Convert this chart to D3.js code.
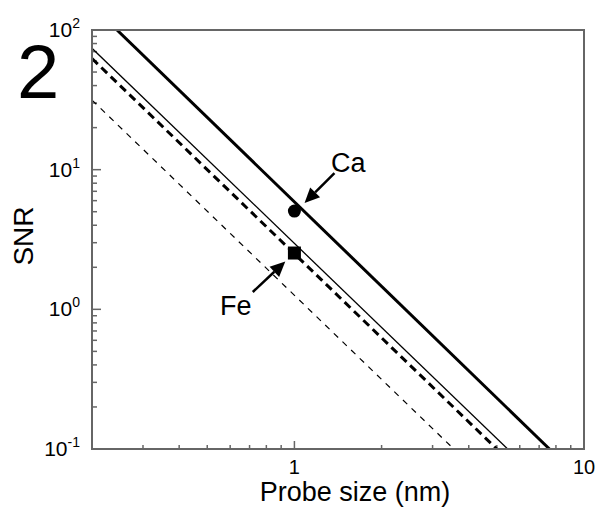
<!DOCTYPE html>
<html><head><meta charset="utf-8">
<script src="https://cdn.jsdelivr.net/npm/d3@7"></script>
<style>
body{margin:0;background:#fff;}
svg text{font-family:"Liberation Sans",Arial,Helvetica,sans-serif;fill:#000;}
</style></head>
<body><svg id="c" width="599" height="508"></svg>
<script>
// Lines: two points (at frame edges) per series
const thickSolid = [[0.244, 100], [7.6, 0.1]];
const thinSolid = [[0.2, 74], [5.45, 0.1]];
const thickDashed = [[0.2, 62.5], [5.0, 0.1]];
const thinDashed = [[0.2, 31.5], [3.55, 0.1]];
const caPoint = [1, 5.05];
const fePoint = [1, 2.53];
const xMajorTicks = [1, 10];
const yMajorTicks = [0.1, 1, 10, 100];
const yTickExp = ["-1", "0", "1", "2"];
const xTickLabels = ["1", "10"];
// annotation arrows [tail, head] in data units
const caArrow = [[1.375, 9.46], [1.084, 5.77]];
const feArrow = [[0.718, 1.33], [0.93, 2.2]];

const svg = d3.select("#c");
const L = 92, R = 584, T = 30, B = 449;
const x = d3.scaleLog().domain([0.2, 10]).range([L, R]);
const y = d3.scaleLog().domain([0.1, 100]).range([B, T]);

const axisColor = "#666";

const xMinor = [];
[0.1, 1].forEach(d => { for (let k = 2; k <= 9; k++) { const v = d * k; if (v > 0.2 && v < 10) xMinor.push(v); } });
const yMinor = [];
[0.1, 1, 10].forEach(d => { for (let k = 2; k <= 9; k++) yMinor.push(d * k); });

const g = svg.append("g");
g.selectAll(".xm").data(xMinor).enter().append("line")
  .attr("x1", d => x(d)).attr("x2", d => x(d)).attr("y1", B).attr("y2", B - 4)
  .attr("stroke", axisColor).attr("stroke-width", 1.5);
g.selectAll(".xM").data(xMajorTicks).enter().append("line")
  .attr("x1", d => x(d)).attr("x2", d => x(d)).attr("y1", B).attr("y2", B - 8)
  .attr("stroke", axisColor).attr("stroke-width", 1.5);
g.selectAll(".ym").data(yMinor).enter().append("line")
  .attr("y1", d => y(d)).attr("y2", d => y(d)).attr("x1", L).attr("x2", L + 5)
  .attr("stroke", axisColor).attr("stroke-width", 1.5);
g.selectAll(".yM").data(yMajorTicks).enter().append("line")
  .attr("y1", d => y(d)).attr("y2", d => y(d)).attr("x1", L).attr("x2", L + 9)
  .attr("stroke", axisColor).attr("stroke-width", 1.5);

svg.append("clipPath").attr("id", "clip").append("rect")
  .attr("x", L).attr("y", T).attr("width", R - L).attr("height", B - T);
const line = d3.line().x(d => x(d[0])).y(d => y(d[1]));
const lg = svg.append("g").attr("clip-path", "url(#clip)");
lg.append("path").attr("d", line(thickSolid)).attr("fill", "none").attr("stroke", "#000").attr("stroke-width", 3);
lg.append("path").attr("d", line(thinSolid)).attr("fill", "none").attr("stroke", "#000").attr("stroke-width", 1.3);
lg.append("path").attr("d", line(thickDashed)).attr("fill", "none").attr("stroke", "#000").attr("stroke-width", 3).attr("stroke-dasharray", "8,5");
lg.append("path").attr("d", line(thinDashed)).attr("fill", "none").attr("stroke", "#000").attr("stroke-width", 1.2).attr("stroke-dasharray", "6,6");

svg.append("rect").attr("x", L).attr("y", T).attr("width", R - L).attr("height", B - T)
  .attr("fill", "none").attr("stroke", axisColor).attr("stroke-width", 2);

svg.append("circle").attr("cx", x(caPoint[0])).attr("cy", y(caPoint[1])).attr("r", 6.5).attr("fill", "#000");
svg.append("rect").attr("x", x(fePoint[0]) - 6.5).attr("y", y(fePoint[1]) - 6.5).attr("width", 13).attr("height", 13).attr("fill", "#000");

function arrow(a) {
  const x1 = x(a[0][0]), y1 = y(a[0][1]), x2 = x(a[1][0]), y2 = y(a[1][1]);
  const ang = Math.atan2(y2 - y1, x2 - x1);
  const hl = 15, hw = 7;
  const bx = x2 - hl * Math.cos(ang), by = y2 - hl * Math.sin(ang);
  svg.append("line").attr("x1", x1).attr("y1", y1).attr("x2", bx).attr("y2", by)
    .attr("stroke", "#000").attr("stroke-width", 2.5);
  const px = -Math.sin(ang) * hw, py = Math.cos(ang) * hw;
  svg.append("path").attr("d", `M${x2},${y2}L${bx + px},${by + py}L${bx - px},${by - py}Z`).attr("fill", "#000");
}
arrow(caArrow);
arrow(feArrow);
svg.append("text").attr("x", 331).attr("y", 172).attr("font-size", 27).text("Ca");
svg.append("text").attr("x", 220).attr("y", 315).attr("font-size", 27).text("Fe");

svg.selectAll(".xl").data(xMajorTicks).enter().append("text")
  .attr("x", d => x(d)).attr("y", B + 25).attr("text-anchor", "middle").attr("font-size", 20)
  .text((d, i) => xTickLabels[i]);
yMajorTicks.forEach((d, i) => {
  const t = svg.append("text").attr("x", L - 12).attr("y", y(d) + 7).attr("text-anchor", "end").attr("font-size", 21);
  t.append("tspan").text("10");
  t.append("tspan").attr("dy", -9).attr("font-size", 14).text(yTickExp[i]);
});

svg.append("text").attr("x", 355).attr("y", 501).attr("text-anchor", "middle").attr("font-size", 27).text("Probe size (nm)");
svg.append("text").attr("transform", "translate(33,236) rotate(-90)").attr("text-anchor", "middle").attr("font-size", 28).text("SNR");

svg.append("text").attr("x", 17).attr("y", 98).attr("font-size", 76).text("2");
</script></body></html>
